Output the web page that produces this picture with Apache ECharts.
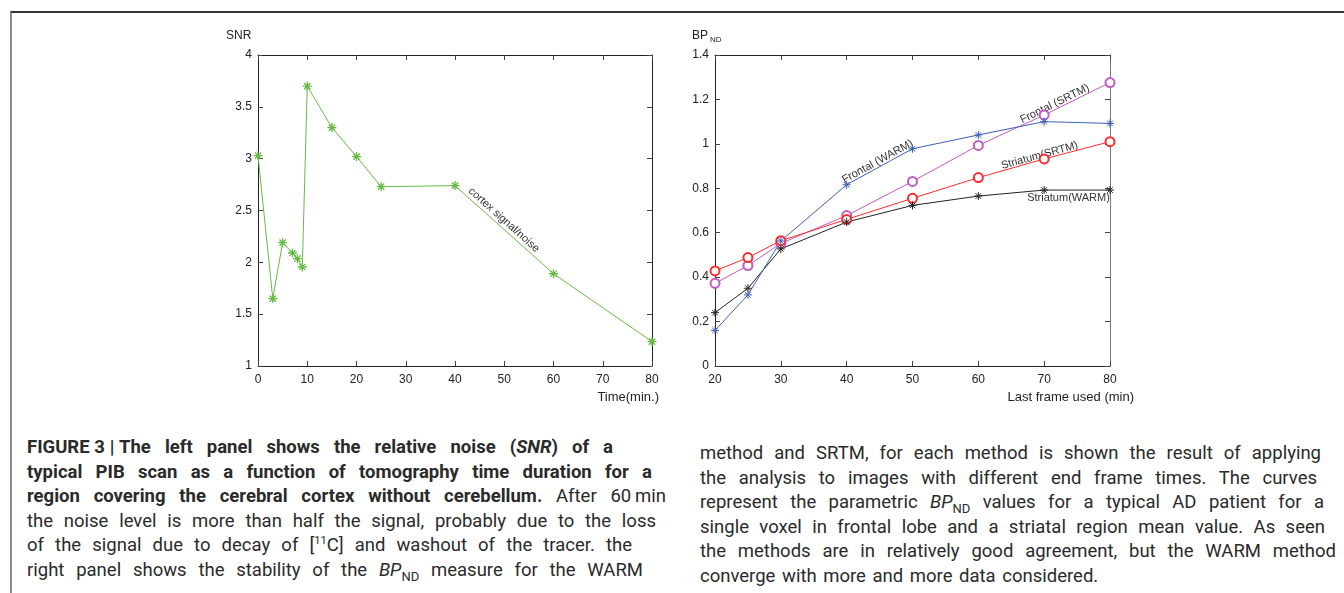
<!DOCTYPE html>
<html>
<head>
<meta charset="utf-8">
<script src="https://cdn.jsdelivr.net/npm/echarts@6/dist/echarts.min.js"></script>
<style>
  html, body { margin: 0; padding: 0; background: #fff; }
  .page { position: relative; width: 1344px; height: 593px; overflow: hidden; }
  .frame { position: absolute; left: 10px; top: 11px; right: -5px; bottom: -5px;
           border-top: 2px solid #333; border-left: 2px solid #8a8a8a; }
  #chart { position: absolute; left: 0; top: 0; width: 1344px; height: 420px; }
  .cap { position: absolute; font-family: Roboto, "Liberation Sans", sans-serif;
         font-size: 18.5px; color: #2a2a2a; line-height: 24.6px; }
  .cap div { text-align: justify; text-align-last: justify; height: 24.6px; white-space: nowrap; }
  .cap div.last { text-align-last: left; word-spacing: 2px; }
  .cap sup { font-size: 11px; line-height: 0; }
  .cap sub { font-size: 13px; line-height: 0; }
</style>
</head>
<body>
<div class="page">
  <div class="frame"></div>
  <div id="chart"></div>
  <div class="cap" style="left:27px; top:435px;">
    <div style="width:586px"><b>FIGURE&#8197;3&#8197;|&#8197;The left panel shows the relative noise (<i>SNR</i>) of a</b></div>
    <div style="width:625px"><b>typical PIB scan as a function of tomography time duration for a</b></div>
    <div style="width:639px"><b>region covering the cerebral cortex without cerebellum.</b> After 60&#8201;min</div>
    <div style="width:629px">the noise level is more than half the signal, probably due to the loss</div>
    <div style="width:605px">of the signal due to decay of [<sup>11</sup>C] and washout of the tracer. the</div>
    <div style="width:616px">right panel shows the stability of the <i>BP</i><sub>ND</sub> measure for the WARM</div>
  </div>
  <div class="cap" style="left:700px; top:441px;">
    <div style="width:621px">method and SRTM, for each method is shown the result of applying</div>
    <div style="width:617px">the analysis to images with different end frame times. The curves</div>
    <div style="width:624px">represent the parametric <i>BP</i><sub>ND</sub> values for a typical AD patient for a</div>
    <div style="width:625px">single voxel in frontal lobe and a striatal region mean value. As seen</div>
    <div style="width:636px">the methods are in relatively good agreement, but the WARM method</div>
    <div class="last" style="width:636px">converge with more and more data considered.</div>
  </div>
</div>
<script>
// left panel: SNR vs time
const snrTime = [0, 3, 5, 7, 8, 9, 10, 15, 20, 25, 40, 60, 80];
const snrValue = [3.03, 1.65, 2.19, 2.09, 2.035, 1.955, 3.70, 3.30, 3.02, 2.73, 2.74, 1.89, 1.235];

// right panel: BPnd vs last frame used
const frameUsed = [20, 25, 30, 40, 50, 60, 70, 80];
const frontalWarm = [0.16, 0.32, 0.563, 0.816, 0.978, 1.04, 1.10, 1.092];
const frontalSrtm = [0.372, 0.452, 0.552, 0.677, 0.831, 0.993, 1.13, 1.276];
const striatumSrtm = [0.428, 0.488, 0.564, 0.66, 0.755, 0.848, 0.932, 1.01];
const striatumWarm = [0.24, 0.35, 0.527, 0.648, 0.723, 0.765, 0.792, 0.792];

const FONT = '"Liberation Sans", Arial, sans-serif';
const asterisk = 'path://M5,0L5,10M0,5L10,5M1.5,1.5L8.5,8.5M1.5,8.5L8.5,1.5';

const zip = (xs, ys) => xs.map((x, i) => [x, ys[i]]);

function xAx(grid, min, max, interval, pos) {
  return {
    gridIndex: grid, type: 'value', min: min, max: max, interval: interval, position: pos,
    axisLine: { onZero: false, lineStyle: { color: '#222', width: 1 } },
    axisTick: { inside: true, length: 5, lineStyle: { color: '#444' } },
    axisLabel: { show: pos === 'bottom', color: '#222', fontSize: 12, fontFamily: FONT, margin: 8 },
    splitLine: { show: false }
  };
}
function yAx(grid, min, max, interval, pos) {
  return {
    gridIndex: grid, type: 'value', min: min, max: max, interval: interval, position: pos,
    axisLine: { onZero: false, lineStyle: { color: pos === 'right' && grid === 1 ? '#777' : '#222', width: 1 } },
    axisTick: { inside: true, length: 5, lineStyle: { color: '#444' } },
    axisLabel: { show: pos === 'left', color: '#222', fontSize: 12, fontFamily: FONT, margin: 6 },
    splitLine: { show: false }
  };
}
function line(name, xi, data, color, symbol, size, bw) {
  return {
    name: name, type: 'line', xAxisIndex: xi, yAxisIndex: xi, data: data,
    symbol: symbol, symbolSize: size, showSymbol: true,
    lineStyle: { color: color, width: 1 },
    itemStyle: { color: color, borderColor: color, borderWidth: bw },
    emphasis: { disabled: true }, animation: false
  };
}

const chart = echarts.init(document.getElementById('chart'));
chart.setOption({
  animation: false,
  grid: [
    { left: 258, top: 55, width: 394, height: 311 },
    { left: 715, top: 55, width: 395, height: 311 }
  ],
  xAxis: [xAx(0, 0, 80, 10, 'bottom'), xAx(0, 0, 80, 10, 'top'),
          xAx(1, 20, 80, 10, 'bottom'), xAx(1, 20, 80, 10, 'top')],
  yAxis: [yAx(0, 1, 4, 0.5, 'left'), yAx(0, 1, 4, 0.5, 'right'),
          yAx(1, 0, 1.4, 0.2, 'left'), yAx(1, 0, 1.4, 0.2, 'right')],
  series: [
    line('cortex signal/noise', 0, zip(snrTime, snrValue), '#66bb44', asterisk, 9, 1.3),
    line('Frontal (SRTM)', 2, zip(frameUsed, frontalSrtm), '#c25bc2', 'emptyCircle', 9, 0.8),
    line('Striatum(SRTM)', 2, zip(frameUsed, striatumSrtm), '#ff2a2a', 'emptyCircle', 9, 0.8),
    line('Striatum(WARM)', 2, zip(frameUsed, striatumWarm), '#222222', asterisk, 8, 1),
    line('Frontal (WARM)', 2, zip(frameUsed, frontalWarm), '#3f5fb5', asterisk, 8, 1)
  ]
});

// in-plot labels, rotated along a segment of their curve
const inLabels = [
  { text: 'cortex signal/noise', axis: 0, at: [49.9, 2.41], seg: [[40, 2.74], [60, 1.89]] },
  { text: 'Frontal (WARM)', axis: 2, at: [44.7, 0.92], seg: [[40, frontalWarm[3]], [50, frontalWarm[4]]] },
  { text: 'Frontal (SRTM)', axis: 2, at: [71.6, 1.18], seg: [[70, frontalSrtm[6]], [80, frontalSrtm[7]]] },
  { text: 'Striatum(SRTM)', axis: 2, at: [69.3, 0.947], seg: [[60, striatumSrtm[5]], [80, striatumSrtm[7]]] },
  { text: 'Striatum(WARM)', axis: 2, at: [73.7, 0.756], seg: null }
];
const px = (a, v) => chart.convertToPixel({ xAxisIndex: a, yAxisIndex: a }, v);

const graphics = inLabels.map(l => {
  const p = px(l.axis, l.at);
  let rot = 0;
  if (l.seg) {
    const a = px(l.axis, l.seg[0]), b = px(l.axis, l.seg[1]);
    rot = Math.atan2(a[1] - b[1], b[0] - a[0]);
  }
  return {
    type: 'text', x: p[0], y: p[1], rotation: rot, silent: true,
    style: { text: l.text, fill: '#333', font: '11px ' + FONT, align: 'center', verticalAlign: 'middle' }
  };
});

// axis titles
graphics.push(
  { type: 'text', x: 226, y: 36, style: { text: 'SNR', fill: '#222', font: '12px ' + FONT, align: 'left', verticalAlign: 'middle' } },
  { type: 'text', x: 692, y: 36, style: { text: 'BP', fill: '#222', font: '12px ' + FONT, align: 'left', verticalAlign: 'middle' } },
  { type: 'text', x: 710, y: 40, style: { text: 'ND', fill: '#222', font: '8px ' + FONT, align: 'left', verticalAlign: 'middle' } },
  { type: 'text', x: 659, y: 397, style: { text: 'Time(min.)', fill: '#222', font: '13px ' + FONT, align: 'right', verticalAlign: 'middle' } },
  { type: 'text', x: 1134, y: 397, style: { text: 'Last frame used (min)', fill: '#222', font: '13px ' + FONT, align: 'right', verticalAlign: 'middle' } }
);

chart.setOption({ graphic: graphics });
</script>
</body>
</html>
